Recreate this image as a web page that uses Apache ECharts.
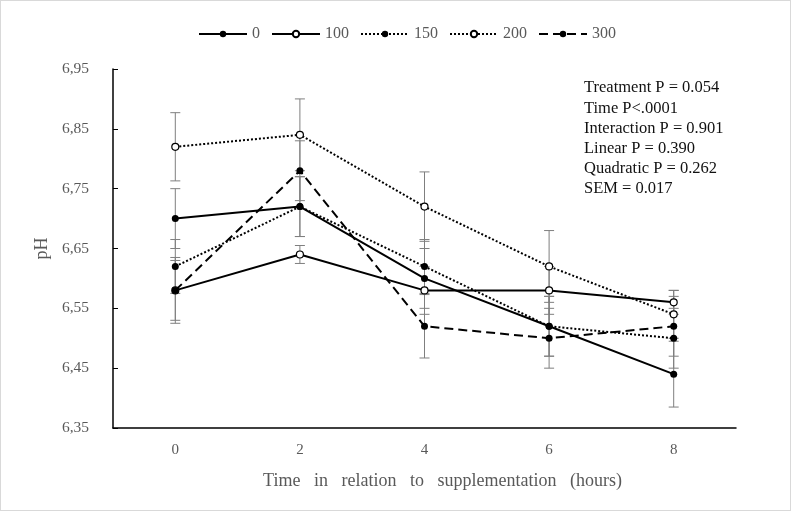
<!DOCTYPE html>
<html lang="en">
<head>
    <meta charset="UTF-8">
    <title>pH</title>
    <style type="text/css">
        html, body { margin: 0; padding: 0; background: #fff; }
        #main {
            width: 789px;
            height: 509px;
            border: 1px solid #d9d9d9;
        }
    </style>
</head>
<body>
<div id="main"></div>
<script type="text/javascript" src="https://cdn.jsdelivr.net/npm/echarts@6/dist/echarts.min.js"></script>
<script type="text/javascript">
    // hours after supplementation
    var hours = ['0', '2', '4', '6', '8'];
    var names = ['0', '100', '150', '200', '300'];

    // mean pH per treatment
    var ph0 = [6.70, 6.72, 6.60, 6.52, 6.44];
    var ph100 = [6.58, 6.64, 6.58, 6.58, 6.56];
    var ph150 = [6.62, 6.72, 6.62, 6.52, 6.50];
    var ph200 = [6.82, 6.84, 6.72, 6.62, 6.54];
    var ph300 = [6.58, 6.78, 6.52, 6.50, 6.52];

    // error bar half-widths
    var err0 = [0.05, 0.05, 0.05, 0.05, 0.055];
    var err100 = [0.055, 0.015, 0.04, 0.04, 0.02];
    var err150 = [0.045, 0.05, 0.045, 0.05, 0.05];
    var err200 = [0.057, 0.06, 0.058, 0.06, 0.04];
    var err300 = [0.05, 0.05, 0.053, 0.05, 0.05];

    var notes = [
        'Treatment P = 0.054',
        'Time P<.0001',
        'Interaction P = 0.901',
        'Linear P = 0.390',
        'Quadratic P = 0.262',
        'SEM = 0.017'
    ];

    var serif = '"Liberation Serif", "DejaVu Serif", serif';
    var grey = '#595959';

    function errData(vals, errs) {
        var out = [];
        for (var i = 0; i < vals.length; i++) {
            out.push([i, vals[i] - errs[i], vals[i] + errs[i]]);
        }
        return out;
    }

    function errSeries(vals, errs) {
        return {
            type: 'custom',
            silent: true,
            z: 1,
            data: errData(vals, errs),
            renderItem: function (params, api) {
                var lo = api.coord([api.value(0), api.value(1)]);
                var hi = api.coord([api.value(0), api.value(2)]);
                var w = 5;
                var st = { stroke: '#7f7f7f', lineWidth: 1 };
                return {
                    type: 'group',
                    children: [
                        { type: 'line', shape: { x1: lo[0], y1: lo[1], x2: hi[0], y2: hi[1] }, style: st },
                        { type: 'line', shape: { x1: lo[0] - w, y1: lo[1], x2: lo[0] + w, y2: lo[1] }, style: st },
                        { type: 'line', shape: { x1: hi[0] - w, y1: hi[1], x2: hi[0] + w, y2: hi[1] }, style: st }
                    ]
                };
            }
        };
    }

    function lineSeries(name, vals, dash, open) {
        return {
            name: name,
            type: 'line',
            data: vals,
            z: 3,
            symbol: 'circle',
            symbolSize: 7,
            lineStyle: { color: '#000', width: 2, type: dash },
            itemStyle: { color: open ? '#fff' : '#000', borderColor: '#000', borderWidth: open ? 1.2 : 0 },
            emphasis: { disabled: true }
        };
    }

    var myChart = echarts.init(document.getElementById('main'));
    var option = {
        animation: false,
        textStyle: { fontFamily: serif },
        legend: {
            data: names,
            top: 20,
            left: 192,
            itemWidth: 48,
            itemHeight: 8,
            itemGap: 11,
            textStyle: { fontFamily: serif, fontSize: 16, color: grey }
        },
        grid: { left: 112, right: 54, top: 68, bottom: 82 },
        xAxis: {
            type: 'category',
            data: hours,
            name: 'Time   in   relation   to   supplementation   (hours)',
            nameLocation: 'middle',
            nameGap: 44,
            nameTextStyle: { fontFamily: serif, fontSize: 18, color: grey, padding: [0, 0, 0, 36] },
            axisLine: { lineStyle: { color: '#000', width: 1.5 } },
            axisTick: { show: false },
            axisLabel: { fontFamily: serif, fontSize: 15, color: grey, margin: 15 }
        },
        yAxis: {
            type: 'value',
            min: 6.35,
            max: 6.95,
            interval: 0.1,
            name: 'pH',
            nameLocation: 'middle',
            nameGap: 62,
            nameTextStyle: { fontFamily: serif, fontSize: 18, color: grey },
            axisLine: { show: true, lineStyle: { color: '#000', width: 1.5 } },
            axisTick: { show: true, inside: true, length: 5, lineStyle: { color: '#000' } },
            splitLine: { show: false },
            axisLabel: {
                fontFamily: serif, fontSize: 15.5, color: grey, margin: 24,
                formatter: function (v) { return v.toFixed(2).replace('.', ','); }
            }
        },
        graphic: [{
            type: 'text',
            left: 583,
            top: 77,
            style: {
                text: notes.join('\n'),
                font: '16.5px ' + serif,
                fill: '#111',
                lineHeight: 20.2
            }
        }],
        series: [
            errSeries(ph0, err0),
            errSeries(ph100, err100),
            errSeries(ph150, err150),
            errSeries(ph200, err200),
            errSeries(ph300, err300),
            lineSeries('0', ph0, 'solid', false),
            lineSeries('100', ph100, 'solid', true),
            lineSeries('150', ph150, [2, 2], false),
            lineSeries('200', ph200, [2, 2], true),
            lineSeries('300', ph300, [9, 5], false)
        ]
    };
    myChart.setOption(option);
</script>
</body>
</html>
